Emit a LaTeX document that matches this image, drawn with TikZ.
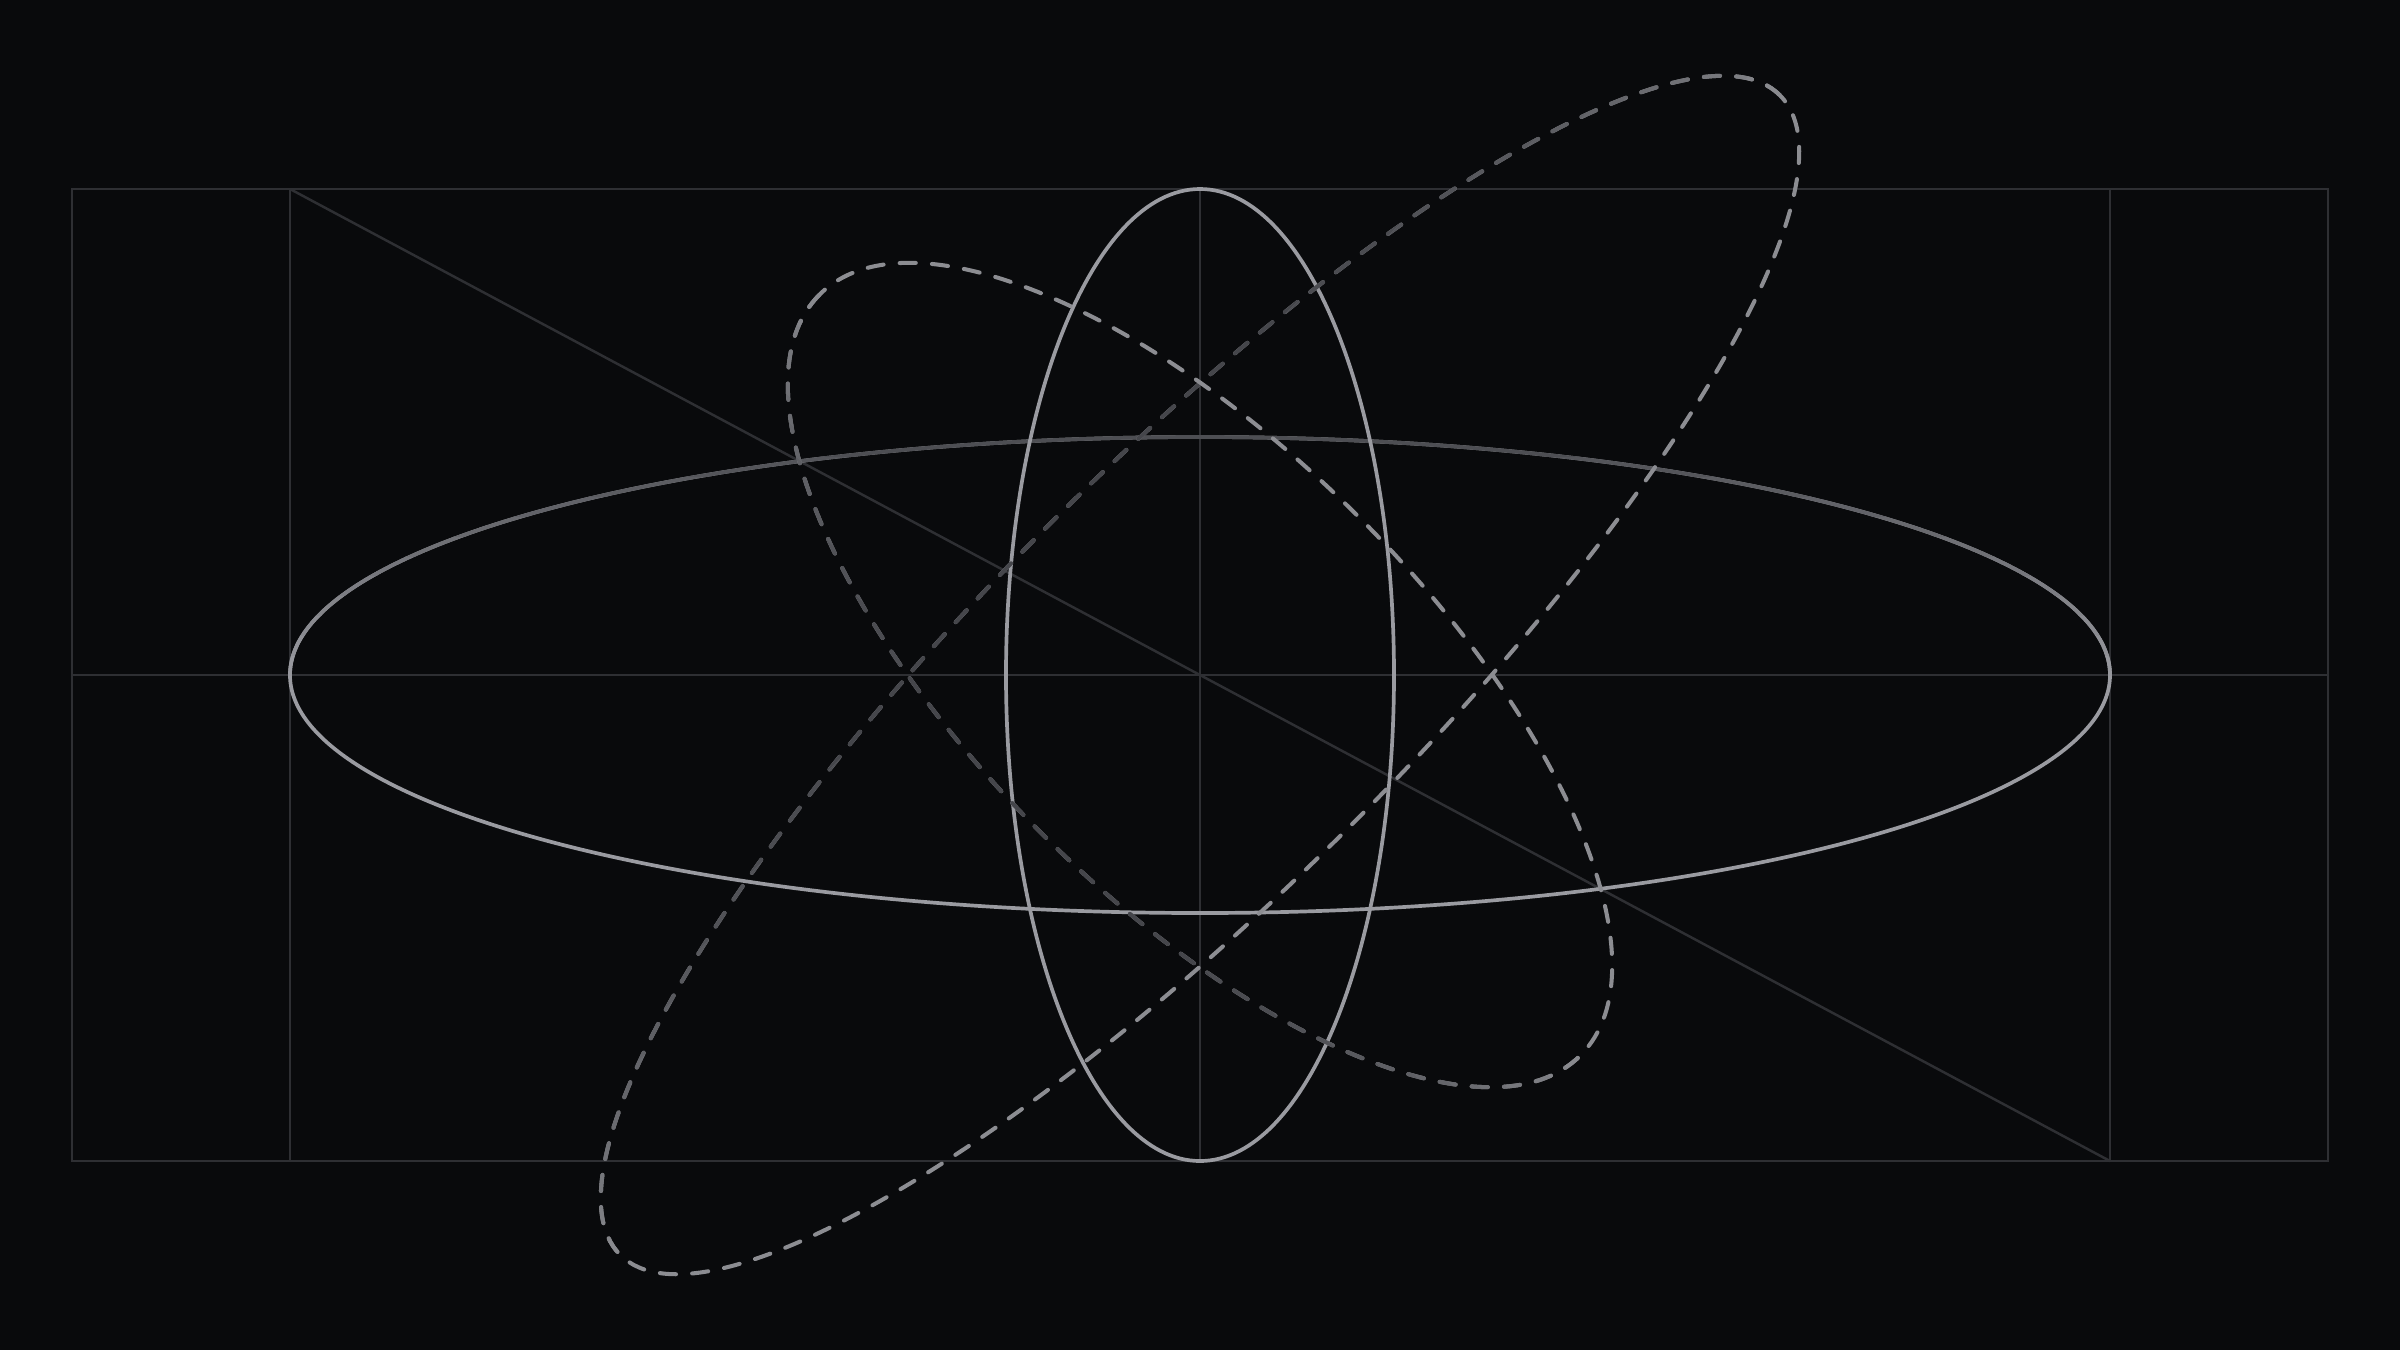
\documentclass[tikz,border=0pt]{standalone}
\usetikzlibrary{calc}
\definecolor{bgdark}{RGB}{9,10,12}
\definecolor{gridgray}{RGB}{46,47,51}
\definecolor{orbitlight}{RGB}{154,155,161}
\definecolor{orbitdim}{RGB}{74,75,80}
\definecolor{dashlight}{RGB}{140,141,146}
\definecolor{dashdim}{RGB}{66,67,72}
\tikzstyle{guide} = [draw=gridgray, line width=0.7pt]
\tikzstyle{orbit} = [line width=1.05pt]
\tikzstyle{tilted} = [line width=1.15pt, line cap=round, dash pattern=on 4.6pt off 4.6pt]
% orbit: angle, x radius, y radius, style, front colour, back colour
\newcommand{\orbit}[6]{%
\begin{scope}[rotate=#1]
\draw[#4, draw=#5] (0,0) ellipse [x radius=#2, y radius=#3];
\end{scope}
\foreach \k in {1,...,12}{
\pgfmathsetmacro{\lo}{(\k-1)/12*#3}
\pgfmathsetmacro{\hi}{\k==12 ? #3+0.3 : \k/12*#3}
\pgfmathsetmacro{\pc}{(\k-0.5)/12*100}
\begin{scope}[rotate=#1]
\clip (-#2-0.3,\lo) rectangle (#2+0.3,\hi);
\draw[#4, draw=#6!\pc!#5] (0,0) ellipse [x radius=#2, y radius=#3];
\end{scope}
}}
\begin{document}
\begin{tikzpicture}
\fill[bgdark] (-12,-6.75) rectangle (12,6.75);
\useasboundingbox (-12,-6.75) rectangle (12,6.75);
\coordinate (o) at (0,0);
\coordinate (frameNW) at (-11.28,4.86);
\coordinate (frameSE) at (11.28,-4.86);
\coordinate (tl) at (-9.10,4.86);
\coordinate (bl) at (-9.10,-4.86);
\coordinate (tr) at (9.10,4.86);
\coordinate (br) at (9.10,-4.86);
\coordinate (top) at (0,4.86);
\coordinate (bot) at (0,-4.86);
\coordinate (left) at (-11.28,0);
\coordinate (right) at (11.28,0);
% frame and guides
\draw[guide] (frameNW) rectangle (frameSE);
\draw[guide] (tl)--(bl);
\draw[guide] (tr)--(br);
\draw[guide] (left)--(right);
\draw[guide] (top)--(bot);
\draw[guide] (tl)--(br);
% solid orbits
\orbit{0}{9.10}{2.38}{orbit}{orbitlight}{orbitdim}
\draw[orbit, draw=orbitlight] (o) ellipse [x radius=1.94, y radius=4.86];
% dashed orbits
\orbit{45}{8.20}{2.13}{tilted}{dashlight}{dashdim}
\orbit{135}{5.38}{2.24}{tilted}{dashlight}{dashdim}
\end{tikzpicture}
\end{document}
